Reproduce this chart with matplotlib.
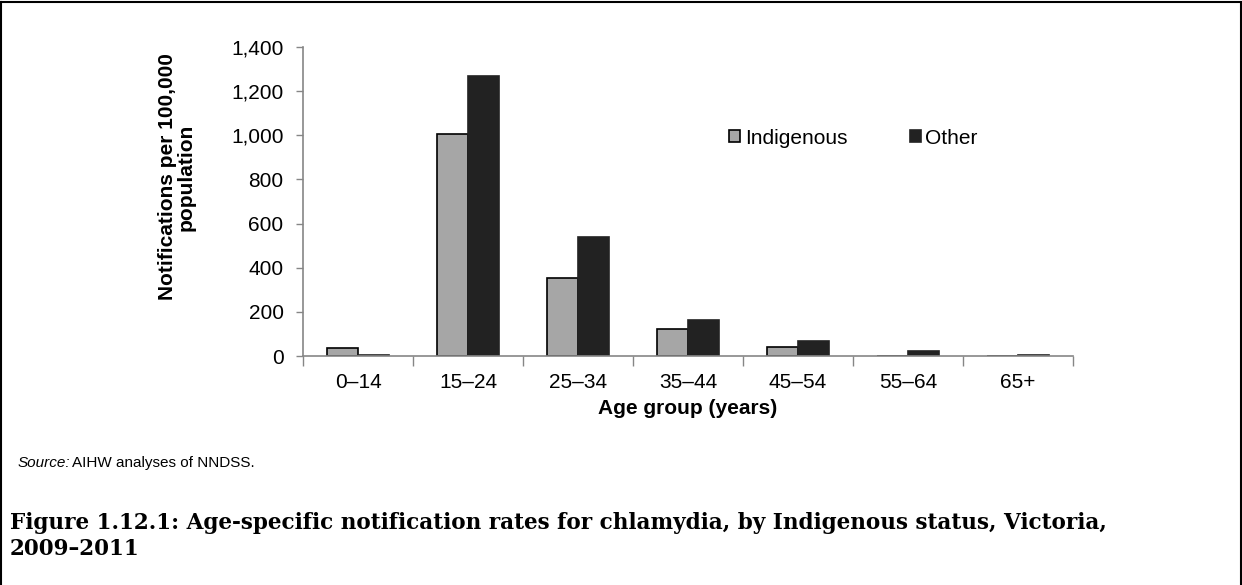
import numpy as np
import matplotlib.pyplot as plt
from matplotlib.ticker import FuncFormatter
from matplotlib.lines import Line2D

age_groups = ['0–14', '15–24', '25–34', '35–44', '45–54', '55–64', '65+']
indigenous = [37, 1005, 353, 121, 40, 0, 0]
other = [5, 1268, 540, 165, 67, 21, 4]

W, H = 1242, 585
fig = plt.figure(figsize=(W / 100, H / 100), dpi=100)
plt.rcParams['font.family'] = ['Liberation Sans', 'DejaVu Sans']

ax = fig.add_axes([303 / W, 1 - 356 / H, 770 / W, 309 / H])

x = np.arange(len(age_groups))
w = 0.285
ax.bar(x - w / 2, indigenous, w, color='#a6a6a6', edgecolor='black', linewidth=1.2, label='Indigenous')
ax.bar(x + w / 2, other, w, color='#222222', edgecolor='#222222', linewidth=1.2, label='Other')

ax.set_xlim(-0.5, len(age_groups) - 0.5)
ax.set_ylim(0, 1400)
ax.set_yticks(np.arange(0, 1401, 200))
ax.yaxis.set_major_formatter(FuncFormatter(lambda v, p: f'{int(v):,}'))

# ticks sit on the category boundaries
ax.set_xticks(x)
ax.set_xticklabels(age_groups)
ax.set_xticks(np.arange(-0.5, len(age_groups)), minor=True)
ax.tick_params(axis='x', which='major', length=0, pad=12, labelsize=15)
ax.tick_params(axis='x', which='minor', length=7, color='#868686', width=1)
ax.tick_params(axis='y', length=5, color='#868686', width=1, labelsize=15, pad=9)

for s in ['top', 'right']:
    ax.spines[s].set_visible(False)
for s in ['left', 'bottom']:
    ax.spines[s].set_color('#868686')
    ax.spines[s].set_linewidth(1.2)

ax.set_xlabel('Age group (years)', fontsize=15, fontweight='bold', labelpad=5)
fig.text(177 / W, 1 - 177 / H, 'Notifications per 100,000\npopulation', rotation=90,
         fontsize=15, fontweight='bold', ha='center', va='center', multialignment='center',
         linespacing=1.0)

fig.legend(loc='center left', bbox_to_anchor=(729 / W, 1 - 138 / H), ncol=2, frameon=False,
           fontsize=15, handlelength=0.55, handleheight=0.55, handletextpad=0.2, columnspacing=3.0,
           borderaxespad=0, borderpad=0)

fig.text(18 / W, 1 - 463 / H, 'Source:', fontsize=11, style='italic', va='center')
fig.text(72 / W, 1 - 463 / H, 'AIHW analyses of NNDSS.', fontsize=11, va='center')

fig.text(10 / W, 1 - 523 / H, 'Figure 1.12.1: Age-specific notification rates for chlamydia, by Indigenous status, Victoria,',
         family='DejaVu Serif', fontweight='bold', fontsize=15.5, va='center')
fig.text(10 / W, 1 - 549 / H, '2009–2011', family='DejaVu Serif', fontweight='bold', fontsize=15.5, va='center')

# page frame
for xs, ys in [([0.001, 0.001], [0, 0.997]), ([0.999, 0.999], [0, 0.997]), ([0.001, 0.999], [0.997, 0.997])]:
    fig.add_artist(Line2D(xs, ys, color='black', linewidth=1.5, transform=fig.transFigure))

fig.savefig('out.png', dpi=100)
